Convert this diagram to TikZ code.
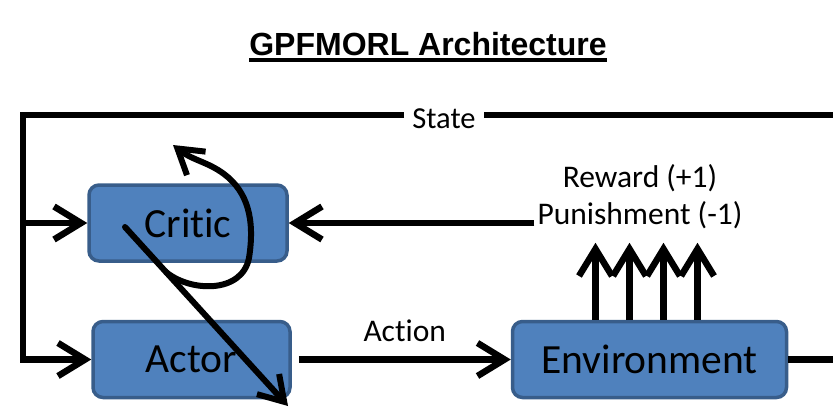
\documentclass[tikz,border=0pt]{standalone}
\usepackage{fontspec}
\setmainfont{Carlito}[Ligatures=NoCommon]
\newfontfamily\titlefont{Liberation Sans}
\usepackage{tikz}
\usetikzlibrary{arrows.meta, positioning}
\definecolor{boxFill}{HTML}{4F81BD}
\definecolor{boxBorder}{HTML}{385D8A}
\tikzset{
  block/.style={draw=boxBorder, fill=boxFill, line width=3.5pt, rounded corners=10pt,
    minimum height=76pt, inner sep=0pt, font=\fontsize{41.5}{48}\selectfont},
  wire/.style={line width=6.5pt},
  pen/.style={line width=6pt, line cap=round, line join=round,
    -{Straight Barb[length=24pt,width=30pt]}},
  txt/.style={font=\fontsize{31.5}{37}\selectfont},
}

\begin{document}
\begin{tikzpicture}[x=1pt, y=-1pt, >={Straight Barb[length=27pt,width=33pt]}, node distance=57pt]
\useasboundingbox (0,0) rectangle (833,408);
% title
\node[font=\titlefont\bfseries\fontsize{32}{38}\selectfont, inner sep=0pt, anchor=base] (title) at (428,55) {GPFMORL Architecture};
\draw[line width=3.5pt] ([yshift=-5pt]title.base west) -- ([yshift=-5pt]title.base east);
% blocks
\node[block, minimum width=198pt] (critic) at (188,223) {Critic};
\node[block, minimum width=197pt, below=57pt of critic, xshift=3.5pt] (actor) {Actor};
\node[block, minimum width=274pt, right=219pt of actor] (env) {Environment};
% labels
\node[font=\fontsize{30.5}{36}\selectfont, inner xsep=8pt] (state) at (444,119) {State};
\node[txt, align=center, inner sep=0pt] (reward) at (640,197) {Reward (+1)\\Punishment (-1)};
\coordinate (corner) at (23,115);
\coordinate (stateEnd) at (833,115);
% state feedback
\draw[wire] (stateEnd) -- (state.east |- stateEnd);
\draw[wire, ->] (state.west |- corner) -- (corner) |- (actor.west);
\draw[wire, ->] (corner |- critic.west) -- (critic.west);
% action and reward
\draw[wire, ->] ([xshift=7pt]actor.east) -- (env.west) node[txt, midway, above=11pt] {Action};
\draw[wire] (env.east) -- (env.east -| stateEnd);
\draw[wire, ->] ([xshift=-3pt]reward.west |- critic.east) -- (critic.east);
\foreach \dx in {-54,-20,14,48}
  \draw[wire, ->] ([xshift=\dx pt]env.north) -- ++(0,-77);
% pen strokes
\coordinate (penA) at (125,227);
\coordinate (penB) at (288,406);
\coordinate (curlA) at (166,272);
\coordinate (curlB) at (173,145);
\draw[pen] (penA) -- (penB);
\draw[pen] (curlA) .. controls (190,292) and (242,294) .. (249,258)
  .. controls (255,220) and (248,192) .. (224,174)
  .. controls (208,162) and (192,160) .. (curlB);
\end{tikzpicture}
\end{document}
